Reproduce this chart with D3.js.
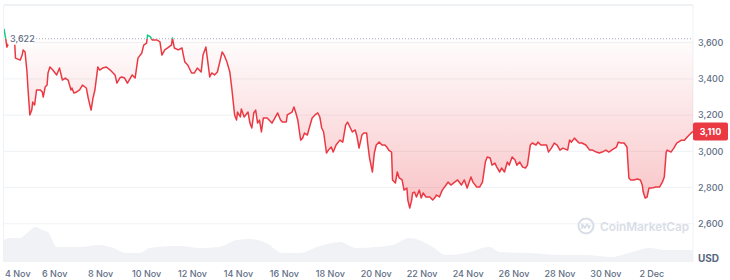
<!DOCTYPE html>
<html>
<head>
<meta charset="utf-8">
<script src="https://cdn.jsdelivr.net/npm/d3@7"></script>
<style>
  body { margin: 0; background: #fff; }
  svg { display: block; font-family: Inter, "Noto Sans", sans-serif; }
</style>
</head>
<body>
<div id="chart"></div>
<script>
// hours since 3 Nov 19:00 and the price (USD) at that hour
const hours = [0, 2, 3, 5, 9, 11, 12, 17, 19, 20, 22, 24, 25, 27, 29, 30, 32, 34, 38, 40, 41, 43, 45, 46, 48, 51, 55, 58, 61, 64, 67, 70, 71, 73, 76, 79, 82, 86, 88, 91, 93, 95, 97, 98, 100, 103, 107, 111, 116, 118, 121,
  123, 126, 129, 134, 137, 140, 144, 146, 149, 150, 153, 155, 160, 163, 165, 168, 171, 175, 176, 178, 182, 186, 187, 189, 192, 196, 199, 202, 206, 208, 211, 213, 215, 217, 220, 223, 228, 230, 233, 236, 238, 241,
  243, 244, 247, 248, 251, 255, 257, 259, 261, 263, 265, 267, 269, 271, 275, 280, 283, 286, 289, 291, 295, 296, 301, 303, 305, 307, 310, 312, 314, 317, 319, 322, 325, 328, 330, 332, 334, 337, 339, 342, 344, 347, 351, 354,
  357, 359, 362, 364, 367, 369, 371, 374, 376, 379, 380, 382, 385, 387, 389, 392, 395, 398, 400, 402, 405, 406, 409, 411, 413, 416, 418, 421, 422, 424, 426, 427, 429, 431, 434, 436, 438, 441, 445, 448, 450, 452, 455, 458,
  462, 464, 467, 471, 474, 478, 481, 484, 488, 490, 494, 497, 500, 503, 505, 508, 510, 513, 515, 518, 520, 523, 526, 528, 531, 534, 536, 539, 542, 545, 547, 550, 552, 556, 558, 561, 567, 569, 572, 575, 578, 581, 584, 589,
  591, 593, 596, 598, 601, 604, 608, 612, 615, 619, 622, 625, 629, 632, 635, 640, 642, 645, 648, 651, 653, 655, 658, 662, 665, 667, 668, 670, 672, 674, 677, 681, 685, 688, 690, 692, 693, 697, 700, 703, 708, 711, 714, 718, 720];
const prices = [3676, 3615, 3576, 3598, 3610, 3615, 3515, 3504, 3532, 3560, 3549, 3440, 3350, 3201, 3228, 3272, 3256, 3339, 3339, 3328, 3300, 3355, 3366, 3433, 3466, 3449, 3422, 3460, 3394, 3405, 3394, 3339, 3350, 3322, 3328, 3339, 3366, 3350, 3294, 3228, 3294, 3339, 3422, 3466, 3449, 3460, 3466, 3449, 3422, 3377, 3405,
  3411, 3405, 3377, 3422, 3405, 3515, 3543, 3587, 3598, 3642, 3632, 3615, 3615, 3604, 3532, 3560, 3571, 3587, 3626, 3571, 3560, 3571, 3543, 3493, 3477, 3433, 3433, 3460, 3438, 3532, 3576, 3493, 3411, 3433, 3422, 3438, 3549, 3532, 3493, 3438, 3350, 3201,
  3173, 3217, 3190, 3234, 3190, 3217, 3156, 3129, 3212, 3228, 3156, 3173, 3107, 3184, 3184, 3156, 3184, 3212, 3173, 3162, 3162, 3201, 3217, 3245, 3212, 3173, 3062, 3073, 3101, 3090, 3129, 3184, 3201, 3212, 3190, 3129, 3107, 2991, 3007, 3024, 2996, 3035, 3062, 3051,
  3145, 3162, 3129, 3107, 3118, 3079, 3018, 3090, 3101, 3101, 3046, 2963, 2886, 2991, 3035, 3051, 3035, 3035, 3024, 3007, 2996, 2842, 2825, 2886, 2853, 2842, 2786, 2797, 2731, 2687, 2731, 2770, 2775, 2748, 2786, 2742, 2770, 2748, 2748, 2731, 2742, 2759, 2748, 2786,
  2814, 2830, 2814, 2830, 2842, 2814, 2842, 2797, 2858, 2830, 2803, 2803, 2830, 2941, 2969, 2963, 2924, 2935, 2913, 2886, 2908, 2886, 2941, 2924, 2969, 2952, 2924, 2941, 2913, 2908, 2924, 3035, 3046, 3035, 3051, 3035, 3035, 2996, 3018, 3046, 3035, 3007, 3018, 3007,
  3062, 3051, 3073, 3062, 3046, 3046, 3035, 3007, 3007, 2996, 2991, 2996, 3007, 2996, 3007, 3024, 3051, 3046, 3046, 3024, 2853, 2842, 2842, 2847, 2842, 2814, 2775, 2742, 2748, 2797, 2797, 2803, 2803, 2830, 2858, 2996, 3007, 2996, 3018, 3046, 3062, 3062, 3079, 3101, 3110];

// 24h volume, billions USD
const volHours = [0, 6, 17, 24, 33, 40, 46, 55, 79, 100, 114, 128, 142, 152, 184, 205, 225, 243, 257, 274, 291, 309, 327, 351, 368, 389, 406, 424, 434, 448, 462, 483, 507, 518, 549, 583, 608, 635, 653, 674, 692, 720];
const volumeB = [22, 24, 24, 29, 35, 32, 30, 15, 15, 17, 14, 9, 9, 14, 16, 14, 15, 22, 23, 19, 9, 9, 15, 20, 14, 15, 17, 24, 22, 15, 7, 9, 15, 10, 9, 7, 7, 5, 9, 14, 12, 12];

const priceTicks = [2600, 2800, 3000, 3200, 3400, 3600];
const dayTicks = ['2025-11-04', '2025-11-06', '2025-11-08', '2025-11-10', '2025-11-12', '2025-11-14', '2025-11-16', '2025-11-18', '2025-11-20',
  '2025-11-22', '2025-11-24', '2025-11-26', '2025-11-28', '2025-11-30', '2025-12-02'];
const openPrice = 3622;
const lastPrice = 3110;

const width = 730;
const height = 280;
const plotLeft = 4, plotRight = 693, plotTop = 5, plotBottom = 262;
const red = '#ea3943';
const green = '#16c784';
const textGrey = '#616e85';

const start = new Date(2025, 10, 3, 19);
const data = hours.map((h, i) => ({ date: d3.timeHour.offset(start, h), price: prices[i] }));
const volData = volHours.map((h, i) => ({ date: d3.timeHour.offset(start, h), vol: volumeB[i] }));

const x = d3.scaleTime()
  .domain([start, d3.timeHour.offset(start, 720)])
  .range([plotLeft, plotRight]);

const y = d3.scaleLinear()
  .domain([2400, 3800])
  .range([260, 6.5]);

const yVol = d3.scaleLinear()
  .domain([0, 60])
  .range([plotBottom, plotBottom - 60]);

const svg = d3.select('#chart')
  .append('svg')
  .attr('width', width)
  .attr('height', height);

const defs = svg.append('defs');
const grad = defs.append('linearGradient')
  .attr('id', 'redFill')
  .attr('gradientUnits', 'userSpaceOnUse')
  .attr('x1', 0).attr('x2', 0)
  .attr('y1', y(openPrice)).attr('y2', y(2687));
grad.append('stop').attr('offset', 0).attr('stop-color', red).attr('stop-opacity', 0.01);
grad.append('stop').attr('offset', 1).attr('stop-color', red).attr('stop-opacity', 0.3);

defs.append('clipPath').attr('id', 'below')
  .append('rect').attr('x', plotLeft).attr('y', y(openPrice)).attr('width', plotRight - plotLeft).attr('height', plotBottom - y(openPrice));
defs.append('clipPath').attr('id', 'above')
  .append('rect').attr('x', plotLeft).attr('y', 0).attr('width', plotRight - plotLeft).attr('height', y(openPrice));

// grid
svg.append('g')
  .selectAll('line')
  .data(priceTicks)
  .enter()
  .append('line')
  .attr('x1', plotLeft).attr('x2', plotRight)
  .attr('y1', d => y(d)).attr('y2', d => y(d))
  .attr('stroke', '#eff2f5')
  .attr('stroke-width', 1);

// frame
svg.append('line').attr('x1', plotLeft).attr('x2', plotRight).attr('y1', plotTop).attr('y2', plotTop)
  .attr('stroke', '#eff2f5').attr('stroke-width', 2);
svg.append('line').attr('x1', plotLeft - 0.5).attr('x2', plotLeft - 0.5).attr('y1', plotTop).attr('y2', plotBottom)
  .attr('stroke', '#eff2f5').attr('stroke-width', 1);
svg.append('line').attr('x1', plotRight).attr('x2', plotRight).attr('y1', plotTop).attr('y2', plotBottom)
  .attr('stroke', '#eff2f5').attr('stroke-width', 1);

// volume
svg.append('path')
  .datum(volData)
  .attr('fill', '#f0f2f6')
  .attr('d', d3.area().x(d => x(d.date)).y0(plotBottom).y1(d => yVol(d.vol)).curve(d3.curveMonotoneX));

// watermark
const wm = svg.append('g').attr('transform', 'translate(586,226)');
wm.append('circle').attr('r', 7.5).attr('fill', 'none').attr('stroke', '#d8dee7').attr('stroke-width', 2);
wm.append('path')
  .attr('d', 'M-4,3 L-4,-2 L-1,2 L1,-2 L3,2 L4,-1')
  .attr('fill', 'none').attr('stroke', '#d8dee7').attr('stroke-width', 1.6).attr('stroke-linejoin', 'round');
svg.append('text')
  .attr('x', 600).attr('y', 230.5)
  .attr('font-size', 11.8).attr('font-weight', 600)
  .attr('fill', '#d8dee7')
  .text('CoinMarketCap');

// area between price and opening price
const area = d3.area()
  .x(d => x(d.date))
  .y0(y(openPrice))
  .y1(d => y(d.price));

svg.append('path')
  .datum(data)
  .attr('clip-path', 'url(#below)')
  .attr('fill', 'url(#redFill)')
  .attr('d', area);

// opening price reference
svg.append('line')
  .attr('x1', 33).attr('x2', plotRight)
  .attr('y1', y(openPrice)).attr('y2', y(openPrice))
  .attr('stroke', '#a6b0c3')
  .attr('stroke-width', 1)
  .attr('stroke-dasharray', '1,2');

const line = d3.line()
  .x(d => x(d.date))
  .y(d => y(d.price));

svg.append('path')
  .datum(data)
  .attr('clip-path', 'url(#below)')
  .attr('fill', 'none')
  .attr('stroke', red)
  .attr('stroke-width', 1.5)
  .attr('stroke-linejoin', 'round')
  .attr('d', line);

svg.append('path')
  .datum(data)
  .attr('clip-path', 'url(#above)')
  .attr('fill', 'none')
  .attr('stroke', green)
  .attr('stroke-width', 1.5)
  .attr('stroke-linejoin', 'round')
  .attr('d', line);

// opening price label
const openLabel = svg.append('g');
openLabel.append('rect')
  .attr('x', 8).attr('y', y(openPrice) - 6)
  .attr('width', 25).attr('height', 12)
  .attr('fill', '#fff');
openLabel.append('text')
  .attr('x', 10).attr('y', y(openPrice))
  .attr('dy', '0.35em')
  .attr('font-size', 9).attr('font-weight', 500)
  .attr('fill', textGrey)
  .text(d3.format(',')(openPrice));

// y axis labels
svg.append('g')
  .selectAll('text')
  .data(priceTicks)
  .enter()
  .append('text')
  .attr('x', 698)
  .attr('y', d => y(d))
  .attr('dy', '0.35em')
  .attr('font-size', 9)
  .attr('font-weight', 500)
  .attr('fill', textGrey)
  .text(d => d3.format(',')(d));

svg.append('text')
  .attr('x', 698).attr('y', 258)
  .attr('dy', '0.35em')
  .attr('font-size', 10).attr('font-weight', 700)
  .attr('fill', '#58667e')
  .text('USD');

// last price badge
svg.append('rect')
  .attr('x', plotRight).attr('y', y(lastPrice) - 9)
  .attr('width', 35).attr('height', 18)
  .attr('rx', 2)
  .attr('fill', red);
svg.append('text')
  .attr('x', plotRight + 17.5).attr('y', y(lastPrice))
  .attr('dy', '0.35em')
  .attr('text-anchor', 'middle')
  .attr('font-size', 9).attr('font-weight', 700)
  .attr('fill', '#fff')
  .text(d3.format(',')(lastPrice));

// x axis labels
const fmt = d3.timeFormat('%-d %b');
const xLabels = svg.append('g')
  .selectAll('text')
  .data(dayTicks.map(d => d3.timeParse('%Y-%m-%d')(d)))
  .enter()
  .append('text')
  .attr('y', 274)
  .attr('dy', '0.35em')
  .attr('text-anchor', 'middle')
  .attr('font-size', 9)
  .attr('font-weight', 500)
  .attr('fill', textGrey)
  .text(d => fmt(d));

xLabels.attr('x', function (d) {
  const half = this.getComputedTextLength() / 2;
  return Math.max(x(d), plotLeft + 1 + half);
});
</script>
</body>
</html>
